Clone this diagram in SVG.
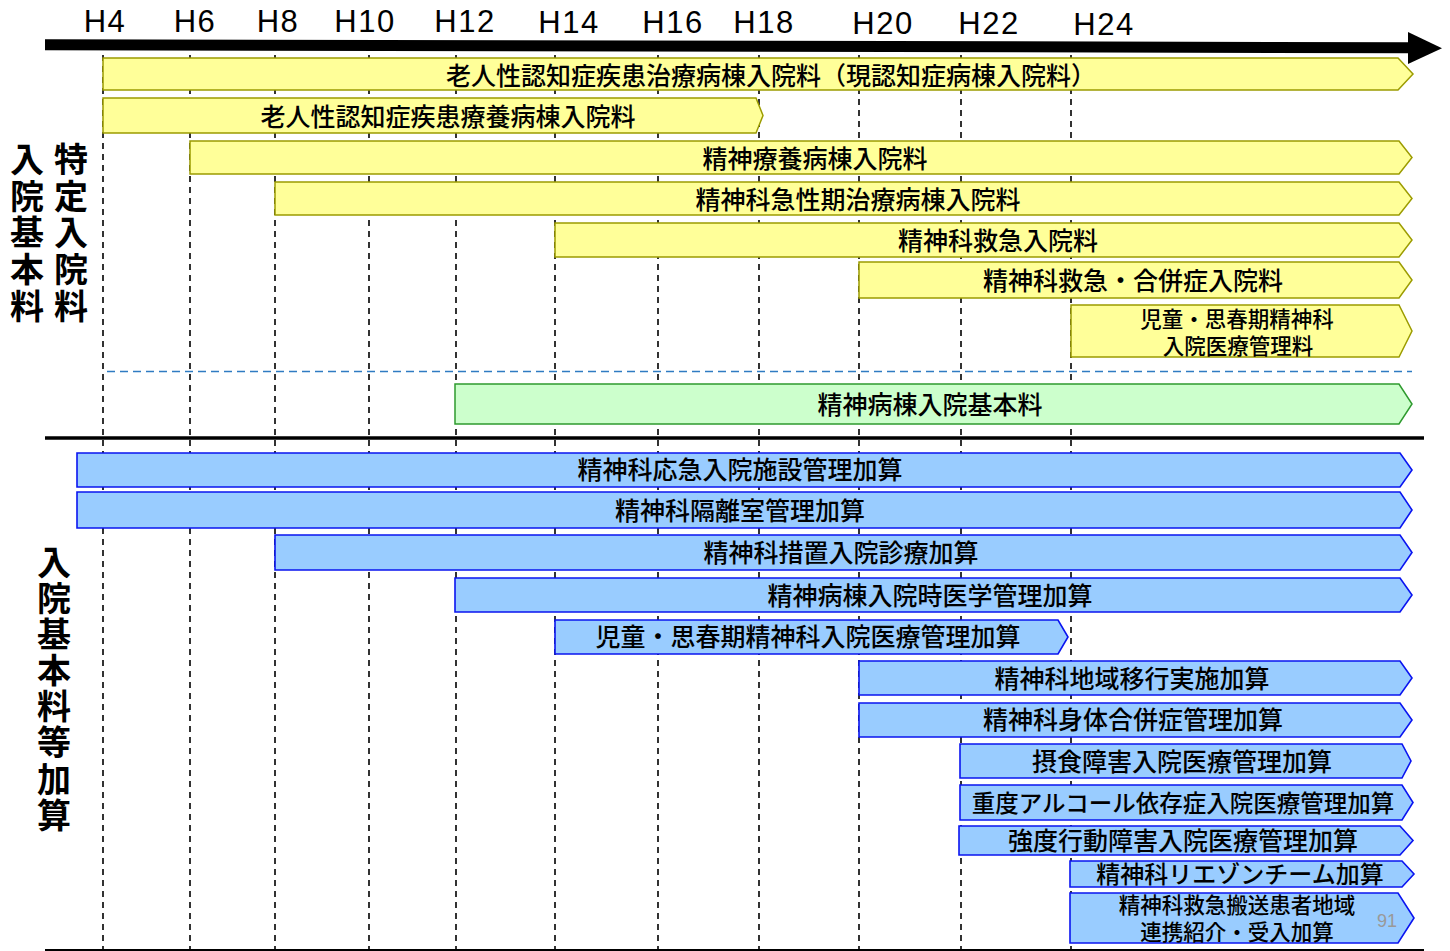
<svg xmlns="http://www.w3.org/2000/svg" width="1450" height="951" viewBox="0 0 1450 951">
<style>
.yr{font-family:"Liberation Sans",Arial,sans-serif;font-size:31px;letter-spacing:1.5px;fill:#000;text-anchor:middle}
.grid{stroke:#000;stroke-width:1.6;stroke-dasharray:6,5;fill:none}
.y{fill:#FFFF99;stroke:#9C9C00;stroke-width:1.5}
.g{fill:#CCFFCC;stroke:#2E9A2E;stroke-width:1.5}
.b{fill:#99CCFF;stroke:#0A14F0;stroke-width:1.6}
.t{font-family:"Noto Sans CJK JP","Noto Sans CJK SC",sans-serif;font-size:25px;font-weight:500;fill:#000;text-anchor:middle}
.t2{font-family:"Noto Sans CJK JP","Noto Sans CJK SC",sans-serif;font-size:21.5px;font-weight:500;fill:#000;text-anchor:middle}
.lbl{font-family:"Noto Sans CJK JP","Noto Sans CJK SC",sans-serif;font-size:34px;font-weight:bold;fill:#000;writing-mode:vertical-rl}
</style>
<rect width="1450" height="951" fill="#fff"/>
<g id="year-labels">
<text class="yr" x="105" y="32">H4</text>
<text class="yr" x="195" y="32">H6</text>
<text class="yr" x="278" y="32">H8</text>
<text class="yr" x="365" y="32">H10</text>
<text class="yr" x="465" y="32">H12</text>
<text class="yr" x="569" y="33">H14</text>
<text class="yr" x="673" y="33">H16</text>
<text class="yr" x="764" y="33">H18</text>
<text class="yr" x="883" y="33.5">H20</text>
<text class="yr" x="989" y="34">H22</text>
<text class="yr" x="1104" y="35">H24</text>
</g>
<g id="grid">
<line class="grid" x1="103" y1="55" x2="103" y2="951"/>
<line class="grid" x1="190" y1="55" x2="190" y2="951"/>
<line class="grid" x1="275" y1="55" x2="275" y2="951"/>
<line class="grid" x1="369" y1="55" x2="369" y2="951"/>
<line class="grid" x1="456" y1="55" x2="456" y2="951"/>
<line class="grid" x1="555" y1="55" x2="555" y2="951"/>
<line class="grid" x1="658" y1="55" x2="658" y2="951"/>
<line class="grid" x1="759" y1="55" x2="759" y2="951"/>
<line class="grid" x1="859" y1="55" x2="859" y2="951"/>
<line class="grid" x1="961" y1="55" x2="961" y2="951"/>
<line class="grid" x1="1071" y1="55" x2="1071" y2="951"/>
</g>
<g id="connectors">
<polygon id="timeline" points="45,39.2 1410,42.2 1410,53.2 45,50.2" fill="#000"/>
<polygon points="1408,32 1442,48.3 1408,64" fill="#000"/>
<line id="section-divider" x1="107" y1="371.5" x2="1412" y2="371.5" stroke="#2F7BC2" stroke-width="1.6" stroke-dasharray="8,5"/>
<line id="separator" x1="45" y1="438" x2="1424" y2="438" stroke="#000" stroke-width="3.5"/>
<line id="bottom-line" x1="45" y1="950" x2="1424" y2="950" stroke="#000" stroke-width="2"/>
</g>
<g id="label-nyuin-kihon">
<text class="lbl" x="27" y="142" letter-spacing="2.75">入院基本料</text>
</g>
<g id="label-tokutei">
<text class="lbl" x="71" y="142" letter-spacing="2.75">特定入院料</text>
</g>
<g id="label-kasan">
<text class="lbl" x="54" y="545" letter-spacing="2.1">入院基本料等加算</text>
</g>
<g id="y1"><path class="y" d="M103,58 H1398 L1413,74 L1398,90 H103 Z"/><text class="t" x="771" y="85">老人性認知症疾患治療病棟入院料（現認知症病棟入院料）</text></g>
<g id="y2"><path class="y" d="M103,98 H756 L763,115.5 L756,133 H103 Z"/><text class="t" x="448" y="126">老人性認知症疾患療養病棟入院料</text></g>
<g id="y3"><path class="y" d="M190,141 H1399 L1412,157.5 L1399,174 H190 Z"/><text class="t" x="815" y="168">精神療養病棟入院料</text></g>
<g id="y4"><path class="y" d="M275,182 H1399 L1412,198.5 L1399,215 H275 Z"/><text class="t" x="858" y="209">精神科急性期治療病棟入院料</text></g>
<g id="y5"><path class="y" d="M555,223 H1399 L1412,240 L1399,257 H555 Z"/><text class="t" x="998" y="250">精神科救急入院料</text></g>
<g id="y6"><path class="y" d="M859,262 H1399 L1412,280 L1399,298 H859 Z"/><text class="t" x="1133" y="290">精神科救急・合併症入院料</text></g>
<g id="y7"><path class="y" d="M1071,305 H1399 L1412,331 L1399,357 H1071 Z"/><text class="t2" x="1237" y="327">児童・思春期精神科</text><text class="t2" x="1238" y="354">入院医療管理料</text></g>
<g id="g1"><path class="g" d="M455,384 H1399 L1412,404 L1399,424 H455 Z"/><text class="t" x="930" y="414">精神病棟入院基本料</text></g>
<g id="b1"><path class="b" d="M77,453 H1400 L1412,470 L1400,487 H77 Z"/><text class="t" x="740" y="479">精神科応急入院施設管理加算</text></g>
<g id="b2"><path class="b" d="M77,492 H1400 L1412,510 L1400,528 H77 Z"/><text class="t" x="740" y="520">精神科隔離室管理加算</text></g>
<g id="b3"><path class="b" d="M275,535 H1400 L1412,552.5 L1400,570 H275 Z"/><text class="t" x="841" y="562">精神科措置入院診療加算</text></g>
<g id="b4"><path class="b" d="M455,578 H1400 L1412,595 L1400,612 H455 Z"/><text class="t" x="930" y="605">精神病棟入院時医学管理加算</text></g>
<g id="b5"><path class="b" d="M555,620 H1058 L1068,637 L1058,654 H555 Z"/><text class="t" x="808" y="646">児童・思春期精神科入院医療管理加算</text></g>
<g id="b6"><path class="b" d="M859,661 H1400 L1412,678 L1400,695 H859 Z"/><text class="t" x="1132" y="688">精神科地域移行実施加算</text></g>
<g id="b7"><path class="b" d="M859,703 H1400 L1412,720 L1400,737 H859 Z"/><text class="t" x="1133" y="729">精神科身体合併症管理加算</text></g>
<g id="b8"><path class="b" d="M960,744 H1402 L1411,761 L1402,778 H960 Z"/><text class="t" x="1182" y="771">摂食障害入院医療管理加算</text></g>
<g id="b9"><path class="b" d="M960,785 H1402 L1413,802.5 L1402,820 H960 Z"/><text class="t" x="1183" y="812" style="font-size:23.5px">重度アルコール依存症入院医療管理加算</text></g>
<g id="b10"><path class="b" d="M959,826 H1400 L1413,840.5 L1400,855 H959 Z"/><text class="t" x="1183" y="850">強度行動障害入院医療管理加算</text></g>
<g id="b11"><path class="b" d="M1070,861 H1402 L1414,874 L1402,887 H1070 Z"/><text class="t" x="1240" y="883" style="font-size:24px">精神科リエゾンチーム加算</text></g>
<g id="b12"><path class="b" d="M1070,893 H1398 L1414,918 L1398,943 H1070 Z"/><text class="t2" x="1237" y="913">精神科救急搬送患者地域</text><text class="t2" x="1237" y="940">連携紹介・受入加算</text></g>
<g id="page-number"><text x="1387" y="927" font-family="Liberation Sans,Arial,sans-serif" font-size="18" fill="#999" text-anchor="middle">91</text></g>
</svg>
